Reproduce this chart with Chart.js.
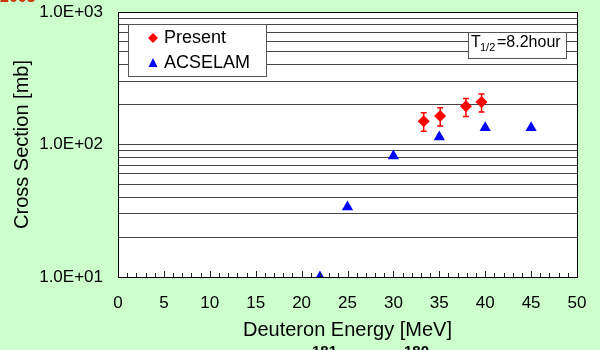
<!DOCTYPE html>
<html>
<head>
<meta charset="utf-8">
<script src="https://cdn.jsdelivr.net/npm/chart.js@4.4.0/dist/chart.umd.min.js"></script>
<style>
  html, body { margin: 0; padding: 0; background: #ccffcc; }
  #wrap { width: 600px; height: 350px; }
</style>
</head>
<body>
<div id="wrap"><canvas id="myChart" width="600" height="350"></canvas></div>
<script>
// Present work (measured), with error bars
const presentEnergy = [33.3, 35.1, 37.9, 39.6];
const presentXs = [150, 164, 194, 209];
const presentLow = [126, 138, 163, 176];
const presentHigh = [174, 189, 222, 240];

// ACSELAM calculation
const acselamEnergy = [22, 25, 30, 35, 40, 45];
const acselamXs = [10, 33.7, 82, 114, 134, 134];

// axes
const xTickLabels = [0, 5, 10, 15, 20, 25, 30, 35, 40, 45, 50];
const yDecades = [10, 100, 1000];
const yTickLabels = ['1.0E+01', '1.0E+02', '1.0E+03'];

const FONT = '"Liberation Sans", Arial, sans-serif';

// every minor log step gets a gridline
let yGridValues = [];
for (let d = 0; d < yDecades.length; d++) {
  for (let m = 1; m <= 9; m++) {
    let v = yDecades[d] * m;
    if (v <= yDecades[yDecades.length - 1]) yGridValues.push(v);
  }
}

const extras = {
  id: 'extras',
  beforeDraw(chart) {
    const ctx = chart.ctx, a = chart.chartArea;
    ctx.save();
    ctx.fillStyle = '#ccffcc';
    ctx.fillRect(0, 0, chart.width, chart.height);
    ctx.fillStyle = '#ffffff';
    ctx.fillRect(a.left, a.top, a.right - a.left, a.bottom - a.top);
    ctx.restore();
  },
  beforeDatasetsDraw(chart) {
    const ctx = chart.ctx;
    const xs = chart.scales.x, ys = chart.scales.y;
    ctx.save();
    ctx.strokeStyle = '#ff0000';
    ctx.lineWidth = 1.5;
    for (let i = 0; i < presentEnergy.length; i++) {
      let px = xs.getPixelForValue(presentEnergy[i]);
      let y1 = ys.getPixelForValue(presentLow[i]);
      let y2 = ys.getPixelForValue(presentHigh[i]);
      ctx.beginPath();
      ctx.moveTo(px, y1); ctx.lineTo(px, y2);
      ctx.moveTo(px - 3, y1); ctx.lineTo(px + 3, y1);
      ctx.moveTo(px - 3, y2); ctx.lineTo(px + 3, y2);
      ctx.stroke();
    }
    ctx.restore();
  },
  afterDraw(chart) {
    const ctx = chart.ctx, a = chart.chartArea;
    const xs = chart.scales.x;
    ctx.save();
    // inward minor ticks on x axis
    ctx.strokeStyle = '#222';
    ctx.lineWidth = 1;
    ctx.beginPath();
    for (let v = 0; v <= 50; v++) {
      let px = Math.round(xs.getPixelForValue(v)) + 0.5;
      let len = v % 5 === 0 ? 6 : 4;
      ctx.moveTo(px, a.bottom);
      ctx.lineTo(px, a.bottom - len);
    }
    ctx.stroke();
    // frame
    ctx.strokeStyle = '#000';
    ctx.strokeRect(Math.round(a.left) + 0.5, Math.round(a.top) + 0.5,
                   Math.round(a.right - a.left), Math.round(a.bottom - a.top));

    // legend box
    ctx.fillStyle = '#fff';
    ctx.fillRect(128, 24, 138, 52);
    ctx.strokeStyle = '#555';
    ctx.strokeRect(128.5, 24.5, 138, 52);
    ctx.fillStyle = '#ff0000';
    ctx.beginPath();
    ctx.moveTo(153, 33); ctx.lineTo(158, 38); ctx.lineTo(153, 43); ctx.lineTo(148, 38);
    ctx.closePath(); ctx.fill();
    ctx.fillStyle = '#0000ff';
    ctx.beginPath();
    ctx.moveTo(153, 58); ctx.lineTo(157.5, 67); ctx.lineTo(148.5, 67);
    ctx.closePath(); ctx.fill();
    ctx.fillStyle = '#000';
    ctx.font = '18px ' + FONT;
    ctx.textBaseline = 'middle';
    ctx.textAlign = 'left';
    ctx.fillText('Present', 164, 38);
    ctx.fillText('ACSELAM', 164, 63);

    // half-life box
    ctx.fillStyle = '#fff';
    ctx.fillRect(468, 32, 98, 26);
    ctx.strokeStyle = '#555';
    ctx.strokeRect(468.5, 32.5, 98, 26);
    ctx.fillStyle = '#000';
    ctx.textBaseline = 'alphabetic';
    ctx.font = '16px ' + FONT;
    ctx.fillText('T', 471, 47);
    ctx.font = '11px ' + FONT;
    ctx.fillText('1/2', 480, 51);
    ctx.font = '16px ' + FONT;
    ctx.fillText('=8.2hour', 497, 47);

    // cut-off title pieces
    ctx.fillStyle = '#cc3300';
    ctx.font = 'bold 16px ' + FONT;
    ctx.fillText('2003', 0, 2);
    ctx.fillStyle = '#000';
    ctx.font = 'bold 15px ' + FONT;
    ctx.textBaseline = 'top';
    ctx.fillText('181', 312, 344);
    ctx.fillText('180', 404, 344);
    ctx.restore();
  }
};

var ctx = document.getElementById('myChart').getContext('2d');
var chart = new Chart(ctx, {
  type: 'scatter',
  data: {
    datasets: [
      {
        label: 'Present',
        data: presentEnergy.map((e, i) => ({ x: e, y: presentXs[i] })),
        pointStyle: 'rectRot',
        pointRadius: 6,
        backgroundColor: '#ff0000',
        borderColor: '#ff0000',
        borderWidth: 0
      },
      {
        label: 'ACSELAM',
        data: acselamEnergy.map((e, i) => ({ x: e, y: acselamXs[i] })),
        pointStyle: 'triangle',
        pointRadius: 6.5,
        backgroundColor: '#0000ff',
        borderColor: '#0000ff',
        borderWidth: 0
      }
    ]
  },
  options: {
    responsive: false,
    animation: false,
    layout: { autoPadding: false, padding: { left: 0, right: 23, top: 12, bottom: 0 } },
    plugins: {
      legend: { display: false },
      tooltip: { enabled: false }
    },
    scales: {
      x: {
        type: 'linear',
        min: 0,
        max: 50,
        afterBuildTicks: s => { s.ticks = xTickLabels.map(v => ({ value: v })); },
        afterFit: s => { s.height = 73; s.paddingLeft = 0; s.paddingRight = 0; },
        grid: { display: false, drawTicks: false },
        border: { display: true, color: '#000', width: 1 },
        ticks: {
          padding: 16,
          color: '#000',
          font: { family: FONT, size: 17 },
          maxRotation: 0,
          autoSkip: false
        },
        title: {
          display: true,
          text: 'Deuteron Energy [MeV]',
          color: '#000',
          font: { family: FONT, size: 20 },
          padding: { top: 0, bottom: 8 }
        }
      },
      y: {
        type: 'logarithmic',
        min: 10,
        max: 1000,
        afterBuildTicks: s => { s.ticks = yGridValues.map(v => ({ value: v })); },
        afterFit: s => { s.width = 118; s.paddingTop = 0; s.paddingBottom = 0; },
        grid: { color: '#444', lineWidth: 1, drawTicks: false },
        border: { display: true, color: '#000', width: 1 },
        ticks: {
          padding: 15,
          color: '#000',
          autoSkip: false,
          font: { family: FONT, size: 17 },
          callback: v => {
            let i = yDecades.indexOf(v);
            return i >= 0 ? yTickLabels[i] : '';
          }
        },
        title: {
          display: true,
          text: 'Cross Section [mb]',
          color: '#000',
          font: { family: FONT, size: 20 },
          padding: { top: 10, bottom: 0 }
        }
      }
    }
  },
  plugins: [extras]
});
</script>
</body>
</html>
